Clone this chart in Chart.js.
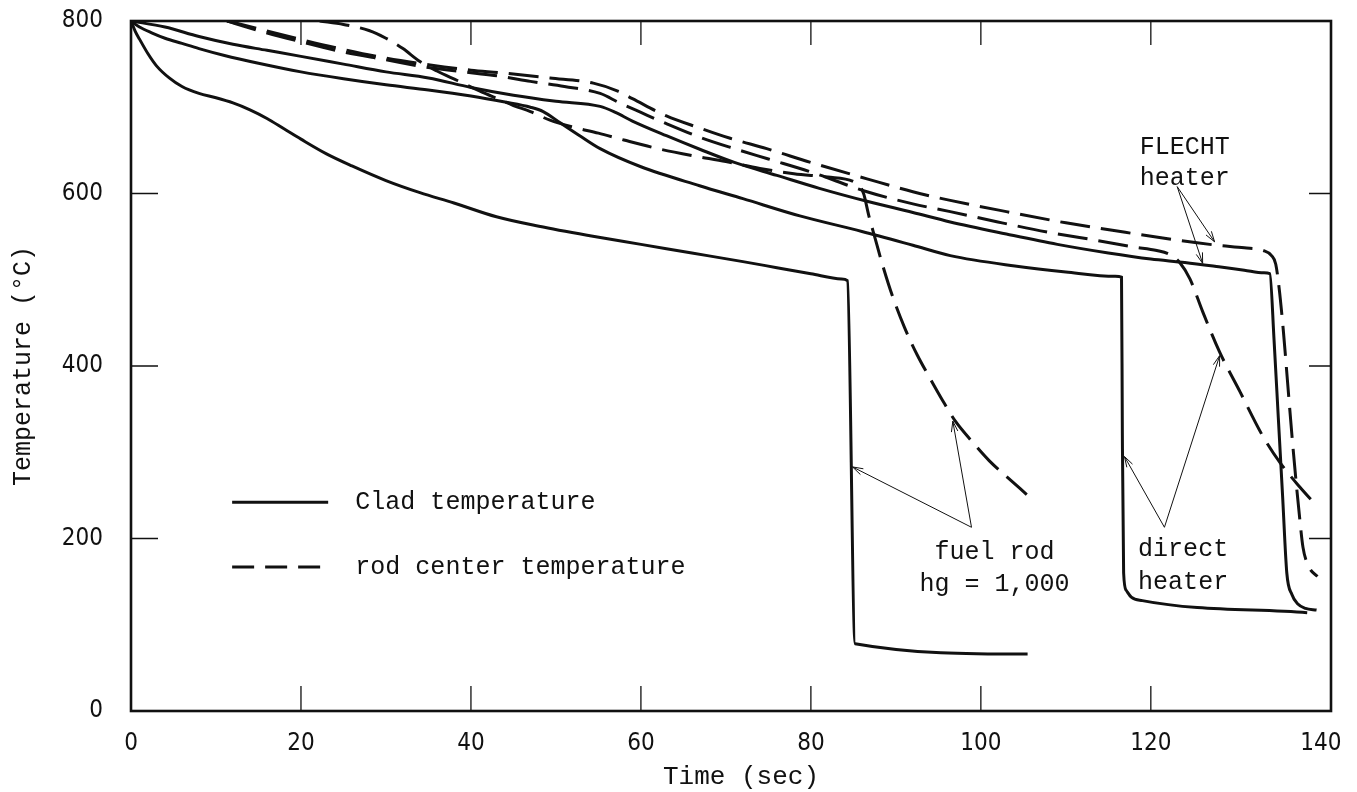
<!DOCTYPE html>
<html>
<head>
  <script src="https://cdn.jsdelivr.net/npm/chart.js"></script>
  <style>
    body { margin: 0; background: #fff; }
  </style>
</head>
<body>
  <canvas id="tempChart" width="1357" height="792"></canvas>
  <script>
// axis ticks
const xTicks = [0, 20, 40, 60, 80, 100, 120, 140];
const yTicks = [0, 200, 400, 600, 800];
const legendLabels = ['Clad temperature', 'rod center temperature'];

// fuel rod, hg = 1,000 -- clad (solid)
const fuelCladTime = [0, 0.5, 1, 2, 3, 4.5, 6, 8, 10, 12, 14, 16, 18, 20, 23, 26, 30, 34, 38, 43, 48, 54, 60, 66, 72, 76, 80, 83.6, 84.3, 85.2, 105.5];
const fuelCladTemp = [800, 788, 779, 762, 748, 734, 724, 716, 711, 705, 697, 687, 675, 663, 646, 632, 615, 601, 589, 573, 562, 551, 541, 531, 521, 514, 507, 501, 499, 78, 66];

// fuel rod -- rod center (dashed)
const fuelCenterTime = [22.2, 25, 28, 30, 32, 34, 36, 38.4, 41, 43.1, 45, 47, 49.3, 52, 55, 58, 62, 66, 70, 74, 78, 82, 85.5, 86.2, 86.8, 87.5, 88.5, 89.6, 91, 92.5, 94, 95.5, 97, 99, 101, 103, 105.4];
const fuelCenterTemp = [800, 796, 789, 780, 768, 753, 742, 731, 719, 710, 702, 695, 685, 677, 670, 662, 652, 644, 637, 629, 623, 619, 611, 600, 575, 550, 515, 481, 445, 413, 386, 360, 336, 312, 290, 272, 251];

// direct heater -- clad (solid)
const directCladTime = [0, 1, 2.5, 4, 6, 8, 11, 15, 20, 25, 30, 35, 40, 44, 47, 48.5, 50.5, 52.8, 55.2, 60, 66.9, 72, 78.7, 86, 92, 96.4, 104, 110, 115.8, 116.55, 116.65, 116.8, 117.1, 117.7, 119, 138.4];
const directCladTemp = [800, 793, 786, 780, 774, 768, 760, 751, 741, 733, 726, 720, 713, 706, 700, 695, 682, 667, 652, 631, 609, 594, 574, 556, 540, 528, 516, 509, 504, 503, 320, 160, 140, 132, 128, 114];

// direct heater -- rod center (dashed)
const directCenterTime = [11.3, 15, 20, 25, 30, 35, 40, 43.4, 47, 51, 55.2, 57.5, 60, 63, 67, 71, 75, 80, 86.6, 92, 96.4, 102, 108, 114, 118, 120.7, 122.3, 123.4, 124.6, 126.1, 128.1, 130.5, 133.1, 135.2, 137.5, 139.6];
const directCenterTemp = [800, 789, 776, 764, 755, 746, 740, 736, 730, 724, 716, 705, 694, 681, 665, 652, 640, 625, 602, 588, 579, 567, 555, 545, 538, 534, 529, 520, 501, 463, 416, 370, 320, 288, 260, 237];

// FLECHT heater -- clad (solid)
const flechtCladTime = [0, 4, 8, 12, 16, 20, 25, 30, 35, 40, 45, 50, 55.2, 57, 59, 63, 67, 71, 76, 81, 86.6, 92, 96.4, 103, 109, 115, 120, 124, 128, 131, 133.3, 134, 134.5, 135, 135.5, 136, 136.6, 137.3, 138.2, 139.5];
const flechtCladTemp = [800, 793, 782, 773, 766, 759, 750, 741, 734, 723, 714, 707, 701, 694, 684, 667, 651, 636, 621, 606, 591, 578, 567, 553, 541, 531, 524, 520, 515, 511, 508, 507, 430, 340, 250, 160, 135, 124, 119, 117];

// FLECHT heater -- rod center (dashed)
const flechtCenterTime = [11.3, 15, 20.2, 25, 30, 35.2, 40, 43.4, 49.3, 54.4, 57.2, 59, 63, 66.9, 70.5, 74.8, 80, 86.6, 92, 96.4, 103, 110, 117, 123, 127.8, 131, 133.2, 134.2, 134.7, 135.1, 135.6, 136.1, 136.6, 137.1, 137.5, 137.9, 138.6, 139.6];
const flechtCenterTemp = [800, 791, 778, 767, 757, 749, 743, 740, 734, 728, 719, 710, 690, 676, 664, 652, 636, 617, 602, 592, 579, 566, 555, 546, 540, 537, 534, 528, 518, 490, 440, 380, 320, 265, 225, 190, 167, 156];

const INK = '#111';
const MONO = '"Liberation Mono", "DejaVu Sans Mono", monospace';
const TICKFONT = '"DejaVu Sans Condensed", "Liberation Sans Narrow", "DejaVu Sans", sans-serif';
const DASH = [30, 11];

function series(time, temp, dashed) {
  return {
    data: time.map((t, i) => ({ x: t, y: temp[i] })),
    borderColor: INK,
    borderWidth: 3,
    borderDash: dashed ? DASH : [],
    pointRadius: 0,
    fill: false,
    cubicInterpolationMode: 'monotone'
  };
}

// text notes and arrows, placed in data units (sec, C); 'at' is the first line
const notes = [
  { lines: ['fuel rod', 'hg = 1,000'], at: [101.6, 184], gap: 32,
    from: [98.9, 213], to: [[84.9, 283], [96.7, 336]] },
  { lines: ['direct', 'heater'], at: [123.8, 187], gap: 33,
    from: [121.6, 213], to: [[116.9, 295], [128.1, 412]] },
  { lines: ['FLECHT', 'heater'], at: [124.0, 654], gap: 31,
    from: [123.1, 608], to: [[127.5, 544], [126.1, 519]] }
];

function arrow(ctx, x1, y1, x2, y2) {
  ctx.beginPath();
  ctx.moveTo(x1, y1);
  ctx.lineTo(x2, y2);
  const a = Math.atan2(y2 - y1, x2 - x1);
  ctx.moveTo(x2, y2);
  ctx.lineTo(x2 - 11 * Math.cos(a - 0.3), y2 - 11 * Math.sin(a - 0.3));
  ctx.moveTo(x2, y2);
  ctx.lineTo(x2 - 11 * Math.cos(a + 0.3), y2 - 11 * Math.sin(a + 0.3));
  ctx.stroke();
}

const decor = {
  id: 'decor',
  afterDatasetsDraw(chart) {
    const { ctx, chartArea: a, scales: { x, y } } = chart;
    ctx.save();
    ctx.strokeStyle = INK;
    ctx.fillStyle = INK;

    // short inward ticks on all four sides
    ctx.lineWidth = 1.3;
    ctx.beginPath();
    xTicks.slice(1, -1).forEach(v => {
      const px = x.getPixelForValue(v);
      ctx.moveTo(px, a.bottom); ctx.lineTo(px, a.bottom - 25);
      ctx.moveTo(px, a.top); ctx.lineTo(px, a.top + 24);
    });
    yTicks.slice(1, -1).forEach(v => {
      const py = y.getPixelForValue(v);
      ctx.moveTo(a.left, py); ctx.lineTo(a.left + 27, py);
      ctx.moveTo(a.right, py); ctx.lineTo(a.right - 22, py);
    });
    ctx.stroke();

    // frame
    ctx.lineWidth = 2.6;
    ctx.strokeRect(a.left, a.top, a.right - a.left, a.bottom - a.top);

    // legend
    const lx1 = x.getPixelForValue(11.9), lx2 = x.getPixelForValue(23.2);
    const tx = x.getPixelForValue(26.4);
    const ly = [y.getPixelForValue(242), y.getPixelForValue(167)];
    ctx.lineWidth = 3;
    ctx.font = '25px ' + MONO;
    ctx.textBaseline = 'middle';
    ctx.textAlign = 'left';
    legendLabels.forEach((label, i) => {
      ctx.setLineDash(i === 0 ? [] : [22, 11]);
      ctx.beginPath();
      ctx.moveTo(lx1, ly[i]);
      ctx.lineTo(lx2, ly[i]);
      ctx.stroke();
      ctx.fillText(label, tx, ly[i]);
    });
    ctx.setLineDash([]);

    // notes with arrows
    ctx.lineWidth = 1;
    ctx.textAlign = 'center';
    notes.forEach(n => {
      const cx = x.getPixelForValue(n.at[0]);
      const cy = y.getPixelForValue(n.at[1]);
      n.lines.forEach((s, i) => ctx.fillText(s, cx, cy + i * n.gap));
      const fx = x.getPixelForValue(n.from[0]), fy = y.getPixelForValue(n.from[1]);
      n.to.forEach(p => arrow(ctx, fx, fy, x.getPixelForValue(p[0]), y.getPixelForValue(p[1])));
    });

    // axis titles
    ctx.font = '26px ' + MONO;
    ctx.textAlign = 'center';
    ctx.fillText('Time (sec)', 741, 777);
    ctx.translate(23, (a.top + a.bottom) / 2);
    ctx.rotate(-Math.PI / 2);
    ctx.font = '25px ' + MONO;
    ctx.fillText('Temperature (\u00b0C)', 0, 0);
    ctx.restore();
  }
};

new Chart(document.getElementById('tempChart'), {
  type: 'line',
  data: {
    datasets: [
      series(fuelCladTime, fuelCladTemp, false),
      series(fuelCenterTime, fuelCenterTemp, true),
      series(directCladTime, directCladTemp, false),
      series(directCenterTime, directCenterTemp, true),
      series(flechtCladTime, flechtCladTemp, false),
      series(flechtCenterTime, flechtCenterTemp, true)
    ]
  },
  options: {
    responsive: false,
    animation: false,
    devicePixelRatio: 1,
    layout: { padding: { top: 21, right: 26, left: 0, bottom: 0 } },
    plugins: { legend: { display: false }, tooltip: { enabled: false } },
    scales: {
      x: {
        type: 'linear',
        min: 0,
        max: 141.2,
        grid: { display: false },
        border: { display: false },
        afterBuildTicks: s => { s.ticks = xTicks.map(v => ({ value: v })); },
        afterFit: s => { s.height = 81; s.paddingLeft = 0; s.paddingRight = 0; },
        ticks: { padding: 10, autoSkip: false, maxRotation: 0, color: INK, font: { family: TICKFONT, size: 24 } }
      },
      y: {
        min: 0,
        max: 800,
        grid: { display: false },
        border: { display: false },
        afterBuildTicks: s => { s.ticks = yTicks.map(v => ({ value: v })); },
        afterFit: s => { s.width = 131; s.paddingTop = 0; s.paddingBottom = 0; },
        ticks: { padding: 20, color: INK, font: { family: TICKFONT, size: 24 } }
      }
    }
  },
  plugins: [decor]
});
  </script>
</body>
</html>
